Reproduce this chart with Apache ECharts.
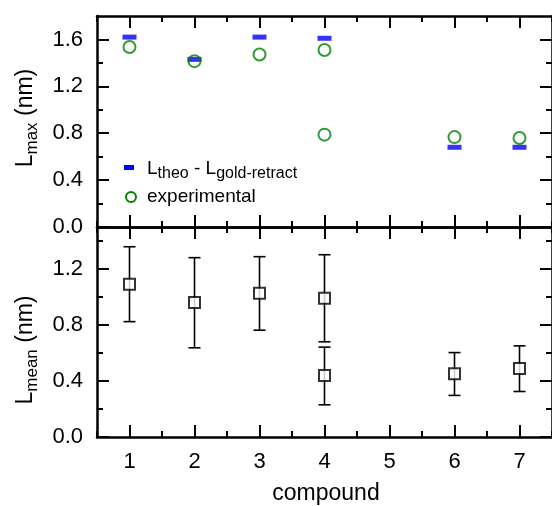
<!DOCTYPE html>
<html><head><meta charset="utf-8">
<script src="https://cdn.jsdelivr.net/npm/echarts@6/dist/echarts.min.js"></script>
<style>html,body{margin:0;padding:0;background:#fff}#c{width:552px;height:506px}</style>
</head><body><div id="c"></div>
<script>
// ---- data ----
const compounds = [1, 2, 3, 4, 5, 6, 7];
const theoX = [1, 2, 3, 4, 6, 7];
const theoY = [1.62, 1.43, 1.62, 1.61, 0.68, 0.68];
const expX = [1, 2, 3, 4, 4, 6, 7];
const expY = [1.535, 1.415, 1.472, 1.51, 0.788, 0.767, 0.759];
const meanX = [1, 2, 3, 4, 4, 6, 7];
const meanY = [1.091, 0.960, 1.027, 0.991, 0.439, 0.451, 0.489];
const meanLow = [0.824, 0.637, 0.763, 0.680, 0.230, 0.297, 0.325];
const meanHigh = [1.359, 1.281, 1.288, 1.302, 0.642, 0.603, 0.651];
const maxTicks = [0, 0.4, 0.8, 1.2, 1.6];
const meanTicks = [0, 0.4, 0.8, 1.2];

const FONT = '"Liberation Sans", Arial, Helvetica, sans-serif';
const BLUE = '#0000ff', GREEN = '#008000';
const LW = 2.5, TW = 2;
const TICK_FS = 22;

const xMinor = [0.5].concat(compounds.map(c => c + 0.5));

function xAxes(gridIndex, showLabels) {
  const base = { type: 'value', gridIndex, min: 0.5, max: 7.5, splitLine: { show: false } };
  const major = (pos, labels) => Object.assign({}, base, {
    position: pos,
    axisLine: { show: true, onZero: false, lineStyle: { color: '#000', width: LW } },
    axisTick: { show: true, inside: true, length: 12, customValues: compounds, lineStyle: { color: '#000', width: TW } },
    axisLabel: {
      show: labels, margin: 14, fontSize: TICK_FS, color: '#000', fontFamily: FONT,
      customValues: compounds, formatter: v => String(Math.round(v))
    }
  });
  const minor = pos => Object.assign({}, base, {
    position: pos,
    axisLine: { show: false, onZero: false },
    axisTick: { show: true, inside: true, length: 6, customValues: xMinor, lineStyle: { color: '#000', width: TW } },
    axisLabel: { show: false }
  });
  return [major('bottom', showLabels), minor('bottom'), major('top', false), minor('top')];
}

function yAxes(gridIndex, max, ticks) {
  const base = { type: 'value', gridIndex, min: 0, max, splitLine: { show: false } };
  const minors = ticks.map(t => Math.round((t + 0.2) * 10) / 10).filter(t => t < max);
  const major = (pos, labels) => Object.assign({}, base, {
    position: pos,
    axisLine: { show: true, onZero: false, lineStyle: { color: '#000', width: LW } },
    axisTick: { show: true, inside: true, length: 12, customValues: ticks, lineStyle: { color: '#000', width: TW } },
    axisLabel: {
      show: labels, margin: 14, fontSize: TICK_FS, color: '#000', fontFamily: FONT,
      customValues: ticks, formatter: v => v.toFixed(1)
    }
  });
  const minor = pos => Object.assign({}, base, {
    position: pos,
    axisLine: { show: false, onZero: false },
    axisTick: { show: true, inside: true, length: 6, customValues: minors, lineStyle: { color: '#000', width: TW } },
    axisLabel: { show: false }
  });
  return [major('left', true), minor('left'), major('right', false), minor('right')];
}

const theoData = theoX.map((x, i) => [x, theoY[i]]);
const expData = expX.map((x, i) => [x, expY[i]]);
const meanData = meanX.map((x, i) => [x, meanY[i]]);
const errData = meanX.map((x, i) => [x, meanLow[i], meanHigh[i]]);

const richMain = (fs, sub) => ({
  a: { fontSize: fs, lineHeight: fs + 4, fontFamily: FONT, color: '#000' },
  b: { fontSize: sub, lineHeight: sub, padding: [Math.round(fs * 0.5), 0, 0, 0], fontFamily: FONT, color: '#000' }
});

const chart = echarts.init(document.getElementById('c'), null, { renderer: 'canvas' });
chart.setOption({
  animation: false,
  backgroundColor: '#fff',
  grid: [
    { left: 97, top: 16, width: 458, height: 211 },
    { left: 97, top: 227, width: 458, height: 210 }
  ],
  xAxis: [].concat(xAxes(0, false), xAxes(1, true)),
  yAxis: [].concat(yAxes(0, 1.8, maxTicks), yAxes(1, 1.5, meanTicks)),
  series: [
    {
      name: 'theo', type: 'scatter', xAxisIndex: 0, yAxisIndex: 0,
      symbol: 'rect', symbolSize: [14, 5], itemStyle: { color: BLUE },
      data: theoData, z: 2
    },
    {
      name: 'experimental', type: 'scatter', xAxisIndex: 0, yAxisIndex: 0,
      symbol: 'circle', symbolSize: 12,
      itemStyle: { color: 'rgba(0,0,0,0)', borderColor: GREEN, borderWidth: 2 },
      data: expData, z: 3
    },
    {
      name: 'err', type: 'custom', xAxisIndex: 4, yAxisIndex: 4,
      encode: { x: 0, y: [1, 2] },
      renderItem: function (params, api) {
        const x = api.value(0);
        const lo = api.coord([x, api.value(1)]);
        const hi = api.coord([x, api.value(2)]);
        const cw = 6;
        const st = { stroke: '#000', lineWidth: 1.6 };
        return {
          type: 'group',
          children: [
            { type: 'line', shape: { x1: lo[0], y1: lo[1], x2: hi[0], y2: hi[1] }, style: st },
            { type: 'line', shape: { x1: lo[0] - cw, y1: lo[1], x2: lo[0] + cw, y2: lo[1] }, style: st },
            { type: 'line', shape: { x1: hi[0] - cw, y1: hi[1], x2: hi[0] + cw, y2: hi[1] }, style: st }
          ]
        };
      },
      data: errData, z: 2
    },
    {
      name: 'mean', type: 'scatter', xAxisIndex: 4, yAxisIndex: 4,
      symbol: 'rect', symbolSize: 11,
      itemStyle: { color: '#fff', borderColor: '#000', borderWidth: 2 },
      data: meanData, z: 3
    }
  ],
  graphic: [
    {
      type: 'text', x: 26, y: 118, rotation: Math.PI / 2,
      style: {
        text: '{a|L}{b|max}{a| (nm)}', rich: richMain(23, 17),
        align: 'center', verticalAlign: 'middle', textAlign: 'center', textVerticalAlign: 'middle'
      }
    },
    {
      type: 'text', x: 26, y: 350, rotation: Math.PI / 2,
      style: {
        text: '{a|L}{b|mean}{a| (nm)}', rich: richMain(23, 17),
        align: 'center', verticalAlign: 'middle', textAlign: 'center', textVerticalAlign: 'middle'
      }
    },
    {
      type: 'text', x: 326, y: 494,
      style: {
        text: 'compound', font: '23px ' + FONT, fill: '#000',
        align: 'center', verticalAlign: 'middle', textAlign: 'center', textVerticalAlign: 'middle'
      }
    },
    { type: 'rect', shape: { x: 124, y: 165, width: 10, height: 5 }, style: { fill: BLUE } },
    { type: 'circle', shape: { cx: 131, cy: 197, r: 5 }, style: { fill: 'none', stroke: GREEN, lineWidth: 2 } },
    {
      type: 'text', x: 147, y: 169,
      style: {
        text: '{a|L}{b|theo}{a| - L}{b|gold-retract}', rich: richMain(19, 16),
        align: 'left', verticalAlign: 'middle', textAlign: 'left', textVerticalAlign: 'middle'
      }
    },
    {
      type: 'text', x: 147, y: 197,
      style: {
        text: 'experimental', font: '19px ' + FONT, fill: '#000',
        align: 'left', verticalAlign: 'middle', textAlign: 'left', textVerticalAlign: 'middle'
      }
    }
  ]
});
</script>
</body></html>
